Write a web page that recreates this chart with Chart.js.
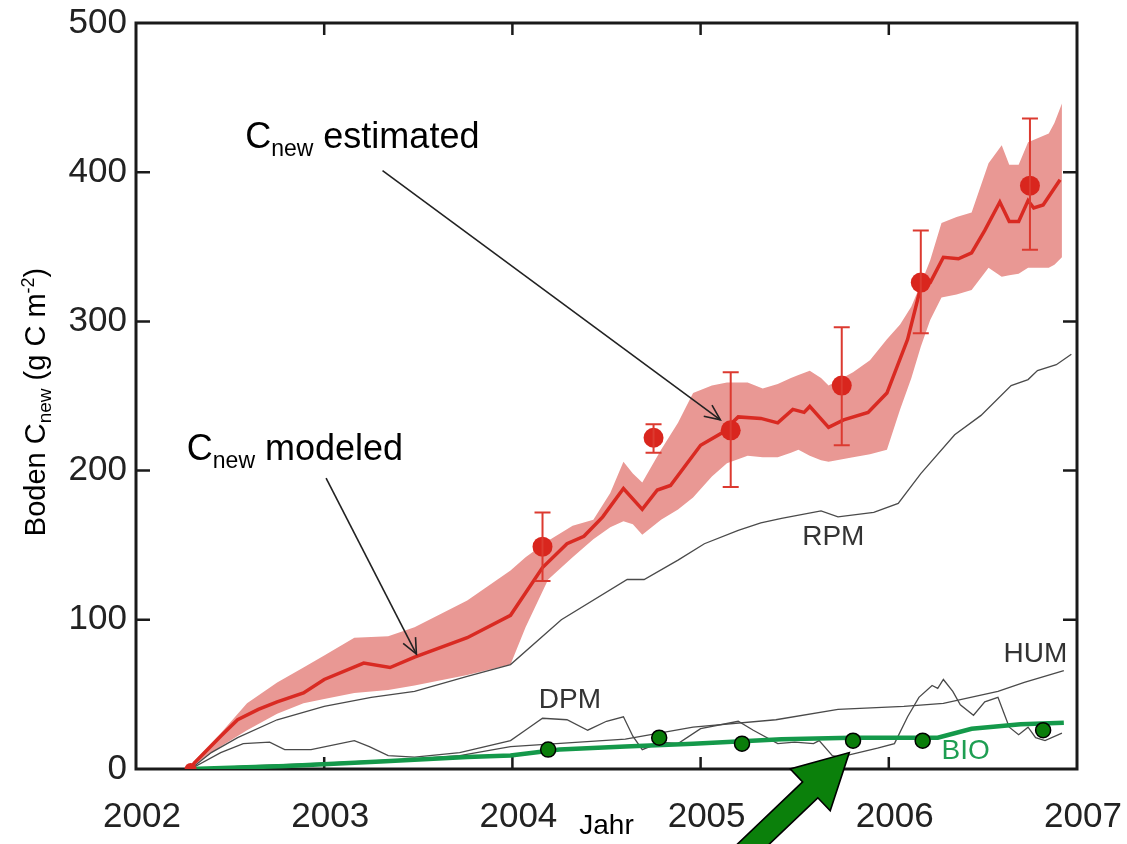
<!DOCTYPE html>
<html lang="de">
<head>
<meta charset="UTF-8">
<title>Boden Cnew</title>
<script src="https://cdn.jsdelivr.net/npm/chart.js"></script>
<style>
  body { margin: 0; background: #fff; }
  #wrap { width: 1127px; height: 844px; }
</style>
</head>
<body>
<div id="wrap"><canvas id="chart" width="1127" height="844"></canvas></div>
<script>
// --- values (x in decimal years, y in g C m-2) ---
const bandX     = [2002.29, 2002.45, 2002.59, 2002.75, 2002.89, 2003.00, 2003.16, 2003.34, 2003.48, 2003.76,
                   2003.99, 2004.07, 2004.19, 2004.32, 2004.43, 2004.52, 2004.59, 2004.64, 2004.69, 2004.79,
                   2004.88, 2004.96, 2005.06, 2005.14, 2005.25, 2005.33, 2005.41, 2005.48, 2005.52, 2005.58,
                   2005.64, 2005.68, 2005.81, 2005.90, 2005.99, 2006.06, 2006.12, 2006.17, 2006.22, 2006.28,
                   2006.36, 2006.44, 2006.53, 2006.60, 2006.64, 2006.69, 2006.74, 2006.85, 2006.88, 2006.92];
const bandUpper = [3, 24, 44, 58, 68, 76, 88, 89, 95, 113,
                   133, 142, 153, 163, 167, 185, 206, 198, 192, 214,
                   232, 252, 257, 259, 259, 255, 258, 262, 264, 267,
                   262, 257, 266, 274, 288, 298, 310, 325, 341, 366,
                   370, 373, 406, 418, 405, 405, 420, 426, 433, 446];
const bandLower = [1, 15, 26, 37, 44, 47, 51, 53, 56, 63,
                   70, 95, 127, 142, 154, 162, 166, 164, 157, 167,
                   174, 182, 196, 205, 210, 209, 209, 212, 214, 210,
                   207, 206, 209, 211, 214, 241, 262, 283, 301, 316,
                   318, 321, 336, 330, 331, 332, 336, 336, 338, 343];

const modelX = [2002.29, 2002.31, 2002.45, 2002.54, 2002.65, 2002.75, 2002.89, 2003.00, 2003.21, 2003.35,
                2003.48, 2003.76, 2003.99, 2004.16, 2004.29, 2004.38, 2004.48, 2004.59, 2004.69, 2004.77,
                2004.84, 2005.00, 2005.11, 2005.20, 2005.32, 2005.41, 2005.49, 2005.55, 2005.58, 2005.68,
                2005.76, 2005.89, 2005.99, 2006.10, 2006.17, 2006.22, 2006.29, 2006.37, 2006.44, 2006.51,
                2006.59, 2006.64, 2006.69, 2006.74, 2006.77, 2006.82, 2006.91];
const modelY = [0, 4, 22, 33, 40, 45, 51, 60, 71, 68,
                75, 88, 103, 135, 151, 156, 169, 188, 174, 187,
                190, 217, 225, 236, 235, 232, 241, 239, 243, 229,
                234, 239, 252, 288, 323, 326, 343, 342, 346, 361,
                380, 367, 367, 381, 376, 378, 395];

const estX    = [2004.16, 2004.75, 2005.16, 2005.75, 2006.17, 2006.75];
const estY    = [149, 222, 227, 257, 326, 391];
const estLow  = [126, 212, 189, 217, 292, 348];
const estHigh = [172, 231, 266, 296, 361, 436];

const rpmX = [2002.29, 2002.40, 2002.54, 2002.75, 2003.00, 2003.25, 2003.48, 2003.76, 2003.99, 2004.26,
              2004.61, 2004.70, 2004.88, 2005.02, 2005.20, 2005.32, 2005.43, 2005.64, 2005.73, 2005.92,
              2006.05, 2006.17, 2006.35, 2006.49, 2006.65, 2006.74, 2006.79, 2006.89, 2006.97];
const rpmY = [0, 11, 21, 33, 42, 48, 52, 62, 70, 100,
              127, 127, 140, 151, 160, 165, 168, 173, 169, 172,
              178, 198, 224, 237, 257, 261, 267, 271, 278];

const dpmX = [2002.29, 2002.45, 2002.57, 2002.71, 2002.79, 2002.93, 2003.16, 2003.24, 2003.34, 2003.48,
              2003.72, 2003.99, 2004.08, 2004.16, 2004.29, 2004.40, 2004.50, 2004.59, 2004.64, 2004.69,
              2004.79, 2004.88, 2005.00, 2005.20, 2005.28, 2005.41, 2005.50, 2005.60, 2005.63, 2005.70,
              2005.74, 2005.84, 2005.94, 2006.03, 2006.10, 2006.16, 2006.23, 2006.26, 2006.29, 2006.34,
              2006.38, 2006.45, 2006.51, 2006.58, 2006.61, 2006.64, 2006.69, 2006.74, 2006.78, 2006.83, 2006.92];
const dpmY = [0, 11, 17, 18, 13, 13, 19, 15, 9, 8,
              11, 19, 27, 34, 33, 26, 32, 35, 22, 13,
              18, 17, 27, 32, 26, 17, 18, 17, 19, 9,
              8, 11, 14, 17, 35, 48, 56, 54, 60, 52,
              43, 36, 45, 48, 38, 28, 23, 28, 21, 19, 24];

const humX = [2002.29, 2002.60, 2003.00, 2003.50, 2003.72, 2003.99, 2004.60, 2004.96, 2005.40, 2005.73,
              2006.08, 2006.29, 2006.58, 2006.72, 2006.93];
const humY = [0, 2, 4, 7, 9, 15, 20, 28, 33, 40,
              42, 44, 52, 58, 66];

const bioX = [2002.29, 2002.80, 2003.30, 2003.76, 2003.99, 2004.25, 2004.60, 2004.96, 2005.43, 2005.80,
              2006.26, 2006.44, 2006.70, 2006.93];
const bioY = [0, 2, 5, 8, 9, 13, 15, 17, 20, 21,
              21, 27, 30, 31];

const bioObsX = [2004.19, 2004.78, 2005.22, 2005.81, 2006.18, 2006.82];
const bioObsY = [13, 21, 17, 19, 19, 26];

const xTicks = [2002, 2003, 2004, 2005, 2006, 2007];
const yTicks = [0, 100, 200, 300, 400, 500];

// annotation anchors in data units
const notes = {
  estimated: { x: 2002.58, y: 416, from: [2003.31, 401], to: [2005.105, 234] },
  modeled:   { x: 2002.27, y: 207, from: [2003.01, 195], to: [2003.49, 77] },
  rpm: { x: 2005.54, y: 150 },
  dpm: { x: 2004.14, y: 41 },
  hum: { x: 2006.61, y: 72 },
  bio: { x: 2006.28, y: 7 },
  greenArrow: { tip: [2005.79, 11], tail: [2005.20, -60] }
};

const pts = (xs, ys) => xs.map((x, i) => ({ x: x, y: ys[i] }));
const FONT = '"Liberation Sans", Arial, Helvetica, sans-serif';

function richText(ctx, parts, x, y) {
  parts.forEach(([t, size, dy]) => {
    ctx.font = size + 'px ' + FONT;
    ctx.fillText(t, x, y + dy);
    x += ctx.measureText(t).width;
  });
  return x;
}
function richWidth(ctx, parts) {
  let w = 0;
  parts.forEach(([t, size]) => { ctx.font = size + 'px ' + FONT; w += ctx.measureText(t).width; });
  return w;
}
function openArrow(ctx, x1, y1, x2, y2) {
  ctx.beginPath(); ctx.moveTo(x1, y1); ctx.lineTo(x2, y2); ctx.stroke();
  const a = Math.atan2(y2 - y1, x2 - x1), L = 17, s = 0.42;
  ctx.beginPath();
  ctx.moveTo(x2 - L * Math.cos(a - s), y2 - L * Math.sin(a - s));
  ctx.lineTo(x2, y2);
  ctx.lineTo(x2 - L * Math.cos(a + s), y2 - L * Math.sin(a + s));
  ctx.stroke();
}

const framePlugin = {
  id: 'frame',
  beforeDatasetsDraw(chart) {
    const { ctx, chartArea: a, scales: { x, y } } = chart;
    ctx.save();
    ctx.strokeStyle = '#1a1a1a';
    ctx.lineWidth = 3;
    ctx.strokeRect(a.left, a.top, a.right - a.left, a.bottom - a.top);
    ctx.lineWidth = 2.5;
    ctx.beginPath();
    xTicks.slice(1, -1).forEach(v => {
      const p = x.getPixelForValue(v);
      ctx.moveTo(p, a.bottom); ctx.lineTo(p, a.bottom - 12);
      ctx.moveTo(p, a.top); ctx.lineTo(p, a.top + 12);
    });
    yTicks.slice(1, -1).forEach(v => {
      const p = y.getPixelForValue(v);
      ctx.moveTo(a.left, p); ctx.lineTo(a.left + 14, p);
      ctx.moveTo(a.right, p); ctx.lineTo(a.right - 14, p);
    });
    ctx.stroke();
    ctx.restore();
  },
  afterDatasetsDraw(chart) {
    const { ctx, scales: { x, y } } = chart;
    const X = v => x.getPixelForValue(v), Y = v => y.getPixelForValue(v);
    ctx.save();
    // error bars
    ctx.strokeStyle = '#dc3a30';
    ctx.lineWidth = 2;
    estX.forEach((v, i) => {
      const px = X(v), lo = Y(estLow[i]), hi = Y(estHigh[i]);
      ctx.beginPath();
      ctx.moveTo(px, lo); ctx.lineTo(px, hi);
      ctx.moveTo(px - 8, lo); ctx.lineTo(px + 8, lo);
      ctx.moveTo(px - 8, hi); ctx.lineTo(px + 8, hi);
      ctx.stroke();
    });
    // annotation arrows
    ctx.strokeStyle = '#222';
    ctx.lineWidth = 1.6;
    [notes.estimated, notes.modeled].forEach(n => {
      openArrow(ctx, X(n.from[0]), Y(n.from[1]), X(n.to[0]), Y(n.to[1]));
    });
    // annotation texts
    ctx.textBaseline = 'alphabetic';
    ctx.fillStyle = '#000';
    richText(ctx, [['C', 36, 0], ['new', 23, 8], [' estimated', 36, 0]], X(notes.estimated.x), Y(notes.estimated.y));
    richText(ctx, [['C', 36, 0], ['new', 23, 8], [' modeled', 36, 0]], X(notes.modeled.x), Y(notes.modeled.y));
    ctx.fillStyle = '#333';
    ctx.font = '28px ' + FONT;
    ctx.fillText('RPM', X(notes.rpm.x), Y(notes.rpm.y));
    ctx.fillText('DPM', X(notes.dpm.x), Y(notes.dpm.y));
    ctx.fillText('HUM', X(notes.hum.x), Y(notes.hum.y));
    ctx.fillStyle = '#1e9e52';
    ctx.fillText('BIO', X(notes.bio.x), Y(notes.bio.y));
    // green block arrow
    const tx = X(notes.greenArrow.tip[0]), ty = Y(notes.greenArrow.tip[1]);
    const sx = X(notes.greenArrow.tail[0]), sy = Y(notes.greenArrow.tail[1]);
    const ang = Math.atan2(ty - sy, tx - sx), len = Math.hypot(tx - sx, ty - sy);
    const hl = 54, hw = 29, sw = 11;
    ctx.translate(sx, sy);
    ctx.rotate(ang);
    ctx.beginPath();
    ctx.moveTo(0, -sw); ctx.lineTo(len - hl, -sw); ctx.lineTo(len - hl, -hw);
    ctx.lineTo(len, 0);
    ctx.lineTo(len - hl, hw); ctx.lineTo(len - hl, sw); ctx.lineTo(0, sw);
    ctx.closePath();
    ctx.fillStyle = '#0b800b';
    ctx.fill();
    ctx.strokeStyle = '#000';
    ctx.lineWidth = 1.6;
    ctx.stroke();
    ctx.restore();
  },
  afterDraw(chart) {
    const { ctx } = chart;
    const parts = [['Boden C', 29, 0], ['new', 19, 6], [' (g C m', 29, 0], ['-2', 18, -11], [')', 29, 0]];
    ctx.save();
    ctx.fillStyle = '#000';
    ctx.textBaseline = 'alphabetic';
    const w = richWidth(ctx, parts);
    ctx.translate(45, 402 + w / 2);
    ctx.rotate(-Math.PI / 2);
    richText(ctx, parts, 0, 0);
    ctx.restore();
  }
};

new Chart(document.getElementById('chart'), {
  type: 'scatter',
  data: {
    datasets: [
      { label: 'band upper', data: pts(bandX, bandUpper), showLine: true, borderWidth: 0, pointRadius: 0, fill: false, order: 10 },
      { label: 'band lower', data: pts(bandX, bandLower), showLine: true, borderWidth: 0, pointRadius: 0,
        fill: '-1', backgroundColor: '#e99894', order: 9 },
      { label: 'RPM', data: pts(rpmX, rpmY), showLine: true, borderColor: '#4a4a4a', borderWidth: 1.3, pointRadius: 0, order: 8 },
      { label: 'HUM', data: pts(humX, humY), showLine: true, borderColor: '#4a4a4a', borderWidth: 1.3, pointRadius: 0, order: 7 },
      { label: 'DPM', data: pts(dpmX, dpmY), showLine: true, borderColor: '#4a4a4a', borderWidth: 1.3, pointRadius: 0, order: 6 },
      { label: 'BIO', data: pts(bioX, bioY), showLine: true, borderColor: '#14994a', borderWidth: 4.5, pointRadius: 0, order: 5 },
      { label: 'Cnew modeled', data: pts(modelX, modelY), showLine: true, borderColor: '#d92a22', borderWidth: 3.5,
        pointRadius: c => c.dataIndex === 0 ? 6 : 0, pointBackgroundColor: '#d92a22', pointBorderWidth: 0, order: 4 },
      { label: 'Cnew estimated', data: pts(estX, estY), showLine: false, pointRadius: 10,
        pointBackgroundColor: '#d9261e', pointBorderWidth: 0, order: 3 },
      { label: 'BIO measured', data: pts(bioObsX, bioObsY), showLine: false, pointRadius: 7.5,
        pointBackgroundColor: '#0a7d0a', pointBorderColor: '#000', pointBorderWidth: 1.5, order: 2 }
    ]
  },
  options: {
    responsive: false,
    animation: false,
    layout: { padding: { top: 23, right: 50, left: 0, bottom: 0 } },
    plugins: { legend: { display: false }, tooltip: { enabled: false } },
    elements: { line: { tension: 0 } },
    scales: {
      x: {
        type: 'linear', min: 2002, max: 2007,
        afterBuildTicks: s => { s.ticks = xTicks.map(v => ({ value: v })); },
        afterFit: s => { s.height = 75; },
        grid: { display: false, drawTicks: false },
        border: { display: false },
        // tall line height pushes the labels down without adding side padding
        ticks: { color: '#222', font: { size: 35, family: FONT, lineHeight: 2.74 }, padding: 0, labelOffset: 6,
                 maxRotation: 0, autoSkip: false, callback: v => String(v) },
        title: { display: true, text: 'Jahr', color: '#000', font: { size: 28, family: FONT }, padding: { top: 0, bottom: 1 } }
      },
      y: {
        min: 0, max: 500,
        afterBuildTicks: s => { s.ticks = yTicks.map(v => ({ value: v })); },
        afterFit: s => { s.width = 136; },
        grid: { display: false, drawTicks: false },
        border: { display: false },
        ticks: { color: '#222', font: { size: 35, family: FONT, lineHeight: 0.6 }, padding: 9, callback: v => String(v) }
      }
    }
  },
  plugins: [framePlugin]
});
</script>
</body>
</html>
